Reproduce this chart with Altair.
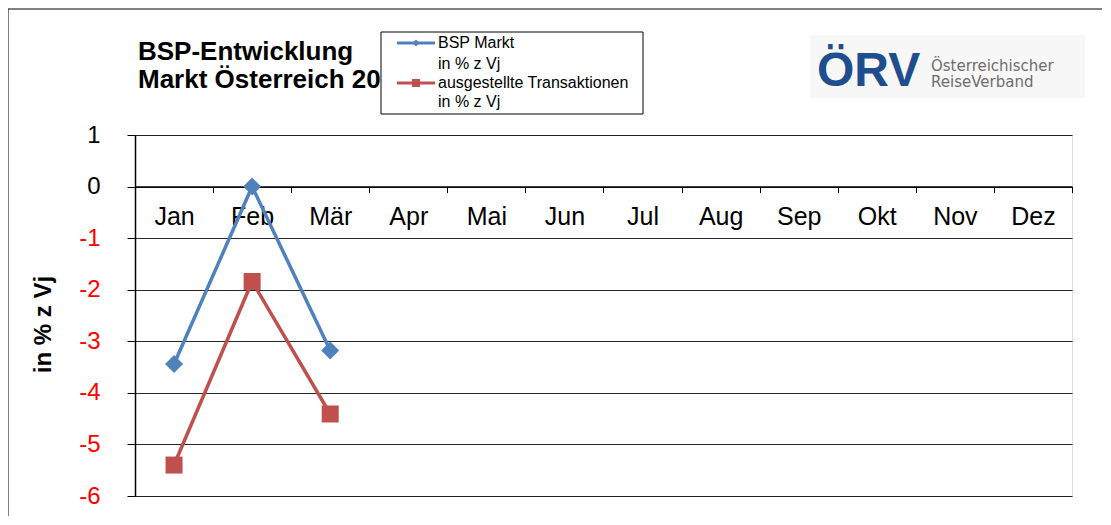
import altair as alt
import pandas as pd

months = ["Jan", "Feb", "Mär", "Apr", "Mai", "Jun", "Jul", "Aug", "Sep", "Okt", "Nov", "Dez"]
series_names = ["BSP Markt", "ausgestellte Transaktionen"]
series_unit = "in % z Vj"
bsp_values = [-3.44, 0.0, -3.18]
trans_values = [-5.40, -1.84, -4.41]
y_ticks = [-6, -5, -4, -3, -2, -1, 0, 1]
title_lines = ["BSP-Entwicklung", "Markt Österreich 20"]
logo_mark = "ÖRV"
logo_text = ["Österreichischer", "ReiseVerband"]

colors = ["#4f81bd", "#c0504d"]
shapes = ["diamond", "square"]
sizes = [324, 289]

rows = []
for m, v in zip(months, bsp_values):
    rows.append({"month": m, "value": v, "series": series_names[0]})
for m, v in zip(months, trans_values):
    rows.append({"month": m, "value": v, "series": series_names[1]})
df = pd.DataFrame(rows)

W, H = 937, 361
FONT = "Liberation Sans"

x_axis = alt.Axis(
    title=None, orient="bottom", offset=-(H * 6 / 7), labelAngle=0,
    labelFontSize=25, labelFont=FONT, labelColor="black", labelBaseline="middle",
    labelPadding=24, tickSize=6, tickColor="black", tickBand="extent",
    domainColor="black", domainWidth=1.5, grid=False,
)
x_enc = alt.X("month:N", sort=months,
              scale=alt.Scale(type="band", domain=months, paddingInner=0, paddingOuter=0),
              bandPosition=0.5, axis=x_axis)
y_axis = alt.Axis(
    values=y_ticks, grid=True, gridColor="black", gridWidth=1, gridOpacity=0.85,
    domainColor="black", domainWidth=1.5, tickColor="black", tickSize=8, labelPadding=27,
    labelFontSize=24, labelFont=FONT,
    labelExpr="datum.value < 0 ? '-' + abs(datum.value) : '' + datum.value",
    labelColor=alt.condition("datum.value < 0", alt.value("#ff0000"), alt.value("black")),
    title=series_unit, titleFont=FONT, titleFontSize=24, titleFontWeight="bold",
    titleColor="black", titleAngle=-90, titleBaseline="alphabetic", titleX=-85, titleY=189,
    titleAlign="center",
)
y_enc = alt.Y("value:Q", scale=alt.Scale(domain=[-6, 1], nice=False, zero=False), axis=y_axis)

color_enc = alt.Color("series:N", scale=alt.Scale(domain=series_names, range=colors), legend=None)

base = alt.Chart(df)
lines = base.mark_line(strokeWidth=3.5).encode(x=x_enc, y=y_enc, color=color_enc)
points = base.mark_point(filled=True, opacity=1).encode(
    x=x_enc, y=y_enc, color=color_enc,
    shape=alt.Shape("series:N", scale=alt.Scale(domain=series_names, range=shapes), legend=None),
    size=alt.Size("series:N", scale=alt.Scale(domain=series_names, range=sizes), legend=None),
)

one = pd.DataFrame({"k": [0]})
deco = alt.Chart(one)

outer = deco.mark_rect(fill=None, stroke="black", strokeWidth=1).encode(
    x=alt.value(-127), x2=alt.value(1200), y=alt.value(-126), y2=alt.value(600))

title1 = deco.mark_text(text=title_lines[0], align="left", baseline="alphabetic", fontSize=26,
                        fontWeight="bold", font=FONT, color="black").encode(x=alt.value(3), y=alt.value(-75))
title2 = deco.mark_text(text=title_lines[1], align="left", baseline="alphabetic", fontSize=26,
                        fontWeight="bold", font=FONT, color="black").encode(x=alt.value(3), y=alt.value(-47))

logo_bg = deco.mark_rect(fill="#f7f7f7").encode(
    x=alt.value(675), x2=alt.value(950), y=alt.value(-100), y2=alt.value(-37))
logo1 = deco.mark_text(text=logo_mark, align="left", baseline="alphabetic", fontSize=48,
                       fontWeight="bold", font=FONT, color="#1f4e8f").encode(x=alt.value(682), y=alt.value(-49))
logo2 = deco.mark_text(text=logo_text[0], align="left", baseline="middle", fontSize=15,
                       font="DejaVu Sans", color="#6d6d6d").encode(x=alt.value(796), y=alt.value(-69))
logo3 = deco.mark_text(text=logo_text[1], align="left", baseline="middle", fontSize=15,
                       font="DejaVu Sans", color="#6d6d6d").encode(x=alt.value(796), y=alt.value(-53))

leg_box = deco.mark_rect(fill="white", stroke="black", strokeWidth=1).encode(
    x=alt.value(246), x2=alt.value(508), y=alt.value(-103), y2=alt.value(-21))
legend_layers = [leg_box]
leg_rows = [(-92, -71), (-52, -33)]
leg_sizes = [50, 64]
for i, name in enumerate(series_names):
    ly, ly2 = leg_rows[i]
    legend_layers.append(deco.mark_rule(color=colors[i], strokeWidth=3).encode(
        x=alt.value(262), x2=alt.value(300), y=alt.value(ly)))
    legend_layers.append(deco.mark_point(filled=True, opacity=1, color=colors[i], shape=shapes[i],
                                         size=leg_sizes[i]).encode(x=alt.value(281), y=alt.value(ly)))
    legend_layers.append(deco.mark_text(text=name, align="left", baseline="middle", fontSize=16,
                                        font=FONT, color="black").encode(x=alt.value(303), y=alt.value(ly)))
    legend_layers.append(deco.mark_text(text=series_unit, align="left", baseline="middle", fontSize=16,
                                        font=FONT, color="black").encode(x=alt.value(303), y=alt.value(ly2)))

chart = alt.layer(
    outer, logo_bg, logo1, logo2, logo3, lines, points, title1, title2, *legend_layers
).properties(
    width=W, height=H,
    autosize=alt.AutoSizeParams(type="none"),
    padding={"left": 127, "top": 127, "right": 30, "bottom": 20},
).configure_view(stroke="black", strokeWidth=1.5).configure(background="white")

chart.save("out.html", embed_options={"renderer": "svg", "actions": False})
